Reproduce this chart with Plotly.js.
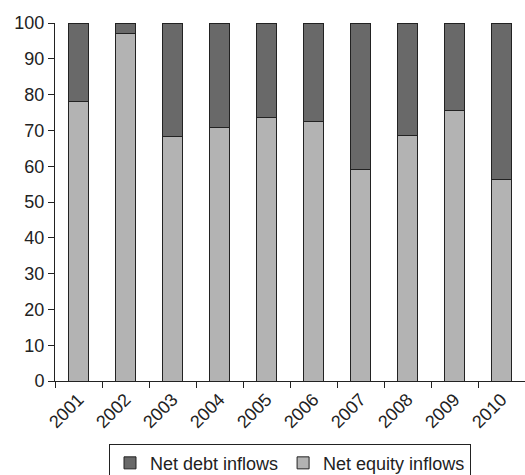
<!DOCTYPE html>
<html>
<head>
<meta charset="utf-8">
<script src="https://cdn.plot.ly/plotly-3.0.1.min.js"></script>
<style>html,body{margin:0;padding:0;background:#fff;}#chart{width:525px;height:475px;}</style>
</head>
<body>
<div id="chart"></div>
<script>
var years = ["2001","2002","2003","2004","2005","2006","2007","2008","2009","2010"];
var equity = [78, 97, 68.4, 70.7, 73.5, 72.5, 59.2, 68.5, 75.6, 56.3];
var debt = equity.map(function(v){ return Math.round((100 - v) * 10) / 10; });

var lineStyle = {color: "#222222", width: 1};
var traces = [
  {type: "bar", name: "Net equity inflows", x: years, y: equity,
   marker: {color: "#b3b3b3", line: lineStyle}},
  {type: "bar", name: "Net debt inflows", x: years, y: debt,
   marker: {color: "#696969", line: lineStyle}}
];

var layout = {
  width: 525, height: 475,
  margin: {l: 55, r: 0, t: 23, b: 94},
  barmode: "stack",
  bargap: 0.58,
  paper_bgcolor: "#ffffff",
  plot_bgcolor: "#ffffff",
  font: {family: "Liberation Sans, Arial, sans-serif", size: 18, color: "#222222"},
  showlegend: true,
  legend: {
    orientation: "h", traceorder: "reversed",
    xref: "paper", x: 0.5, xanchor: "center",
    yref: "container", y: 0.066, yanchor: "top",
    bordercolor: "#222222", borderwidth: 1,
    font: {size: 18, color: "#222222"},
    itemwidth: 30
  },
  xaxis: {
    type: "category", automargin: false,
    tickson: "boundaries",
    ticks: "outside", ticklen: 6, tickcolor: "#222222",
    tickangle: -45,
    showline: true, linecolor: "#222222", linewidth: 1,
    showgrid: false, zeroline: false,
    tickfont: {size: 18}
  },
  yaxis: {
    range: [0, 100], dtick: 10, automargin: false,
    ticks: "outside", ticklen: 6, tickcolor: "#222222",
    showline: true, linecolor: "#222222", linewidth: 1,
    showgrid: false, zeroline: false,
    tickfont: {size: 18}
  }
};

Plotly.newPlot("chart", traces, layout, {displayModeBar: false, staticPlot: true});
</script>
</body>
</html>
